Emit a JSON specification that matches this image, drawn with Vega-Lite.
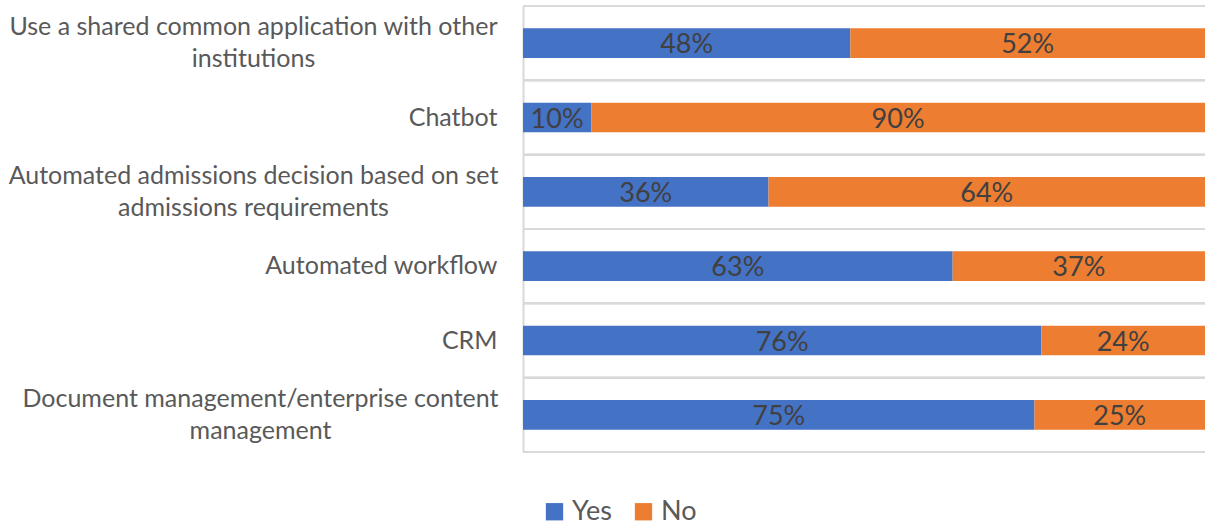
{
  "$schema": "https://vega.github.io/schema/vega-lite/v6.json",
  "autosize": "none",
  "width": 682,
  "height": 446,
  "padding": {"left": 523, "top": 6, "right": 0, "bottom": 73},
  "background": "white",
  "config": {"font": "Lato", "view": {"stroke": null}},
  "data": {"values": [
    {"cat": "Use a shared common application with other|institutions", "answer": "Yes", "value": 0.48},
    {"cat": "Use a shared common application with other|institutions", "answer": "No", "value": 0.52},
    {"cat": "Chatbot", "answer": "Yes", "value": 0.10},
    {"cat": "Chatbot", "answer": "No", "value": 0.90},
    {"cat": "Automated admissions decision based on set|admissions requirements", "answer": "Yes", "value": 0.36},
    {"cat": "Automated admissions decision based on set|admissions requirements", "answer": "No", "value": 0.64},
    {"cat": "Automated workflow", "answer": "Yes", "value": 0.63},
    {"cat": "Automated workflow", "answer": "No", "value": 0.37},
    {"cat": "CRM", "answer": "Yes", "value": 0.76},
    {"cat": "CRM", "answer": "No", "value": 0.24},
    {"cat": "Document management/enterprise content|management", "answer": "Yes", "value": 0.75},
    {"cat": "Document management/enterprise content|management", "answer": "No", "value": 0.25}
  ]},
  "transform": [
    {"stack": "value", "groupby": ["cat"], "sort": [{"field": "answer", "order": "descending"}], "as": ["v0", "v1"], "offset": "normalize"},
    {"calculate": "(datum.v0 + datum.v1) / 2", "as": "mid"}
  ],
  "encoding": {
    "y": {
      "field": "cat", "type": "nominal", "sort": null, "title": null,
      "scale": {"paddingInner": 0, "paddingOuter": 0},
      "axis": {
        "labelExpr": "split(datum.label, '|')",
        "labelFontSize": 25, "labelColor": "#595959", "labelLineHeight": 32,
        "labelAlign": {"condition": {"test": "indexof(datum.value, '|') >= 0", "value": "center"}, "value": "right"},
        "labelPadding": {"condition": [
          {"test": "indexof(datum.value, 'Document') >= 0", "value": 263},
          {"test": "indexof(datum.value, '|') >= 0", "value": 270}
        ], "value": 26},
        "labelOffset": {"condition": {"test": "indexof(datum.value, '|') >= 0", "value": -16}, "value": 0},
        "labelLimit": 700, "ticks": false,
        "domainColor": "#d9d9d9", "domainWidth": 2,
        "grid": false
      }
    }
  },
  "layer": [
    {
      "mark": {"type": "rule", "color": "#d9d9d9", "strokeWidth": 2},
      "encoding": {"y": {"field": "cat", "type": "nominal", "sort": null, "bandPosition": 0}}
    },
    {
      "mark": {"type": "rule", "color": "#d9d9d9", "strokeWidth": 2},
      "encoding": {"y": {"field": "cat", "type": "nominal", "sort": null, "bandPosition": 1}}
    },
    {
      "mark": {"type": "bar", "height": {"band": 0.4}},
      "encoding": {
        "x": {"field": "v0", "type": "quantitative", "scale": {"domain": [0, 1], "nice": false, "zero": true}, "axis": null},
        "x2": {"field": "v1"},
        "color": {
          "field": "answer", "type": "nominal", "title": null,
          "scale": {"domain": ["Yes", "No"], "range": ["#4472C4", "#ED7D31"]},
          "legend": {
            "orient": "none", "direction": "horizontal", "legendX": 18, "legendY": 492,
            "symbolType": "square", "symbolSize": 300, "symbolStrokeWidth": 0,
            "labelFontSize": 27, "labelColor": "#595959", "labelOffset": 4, "columnPadding": 18
          }
        }
      }
    },
    {
      "mark": {"type": "text", "fontSize": 27, "color": "#404040", "baseline": "middle", "dy": 2},
      "encoding": {
        "x": {"field": "mid", "type": "quantitative"},
        "text": {"field": "value", "type": "quantitative", "format": ".0%"}
      }
    }
  ]
}
